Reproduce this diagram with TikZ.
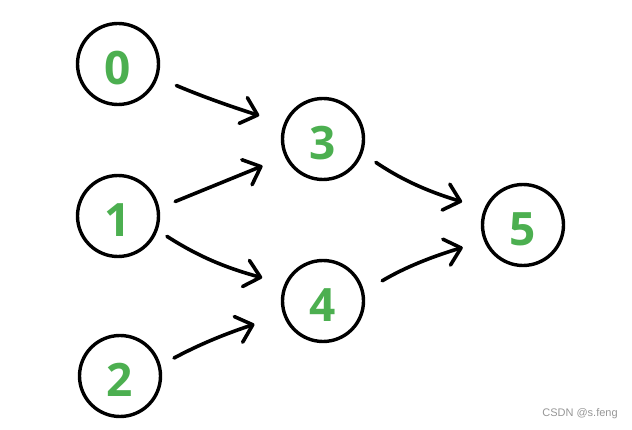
\documentclass[tikz,border=0pt]{standalone}
\usepackage{fontspec}
\setmainfont{Open Sans}
\newfontfamily\wmfont{Liberation Sans}
\usetikzlibrary{arrows.meta,bending}
\definecolor{numgreen}{RGB}{76,175,80}
\definecolor{wmgray}{RGB}{150,150,150}
\begin{document}
\begin{tikzpicture}[x=1pt,y=-1pt,
  vtx/.style={circle,draw,line width=3.4pt,minimum size=81pt,inner sep=0pt,
    font=\fontsize{46}{46}\selectfont\bfseries,text=numgreen,
    text height=41pt,text depth=0pt},
  edge/.style={line width=3.6pt,line cap=round,line join=round,
    -{Straight Barb[length=15pt,width=27pt,line cap=round,line join=round]}},
  wmark/.style={font=\wmfont\fontsize{11}{11}\selectfont,text=wmgray,inner sep=0pt}]
\useasboundingbox (0,0) rectangle (632,430);
\node[vtx] (n0) at (118,64) {0};
\node[vtx] (n1) at (118,216) {1};
\node[vtx] (n2) at (120,376) {2};
\node[vtx] (n3) at (323,139) {3};
\node[vtx] (n4) at (323,301) {4};
\node[vtx] (n5) at (523,225) {5};
\draw[edge, shorten <=20pt, shorten >=27pt] (n0.-19) to[bend right=3] (n3.158);
\draw[edge, shorten <=17pt, shorten >=24pt] (n1.11) to (n3.205);
\draw[edge, shorten <=11pt, shorten >=24pt] (n1.-20) to[bend right=10] (n4.155);
\draw[edge, shorten <=15pt, shorten >=32pt] (n2.15) to[bend left=6] (n4.200);
\draw[edge, shorten <=16pt, shorten >=24pt] (n3.-20) to[bend right=10] (n5.156);
\draw[edge, shorten <=21pt, shorten >=23pt] (n4.13) to[bend left=8] (n5.203);
\node[wmark] (wm) at (580,414) {CSDN @s.feng};
\end{tikzpicture}
\end{document}
